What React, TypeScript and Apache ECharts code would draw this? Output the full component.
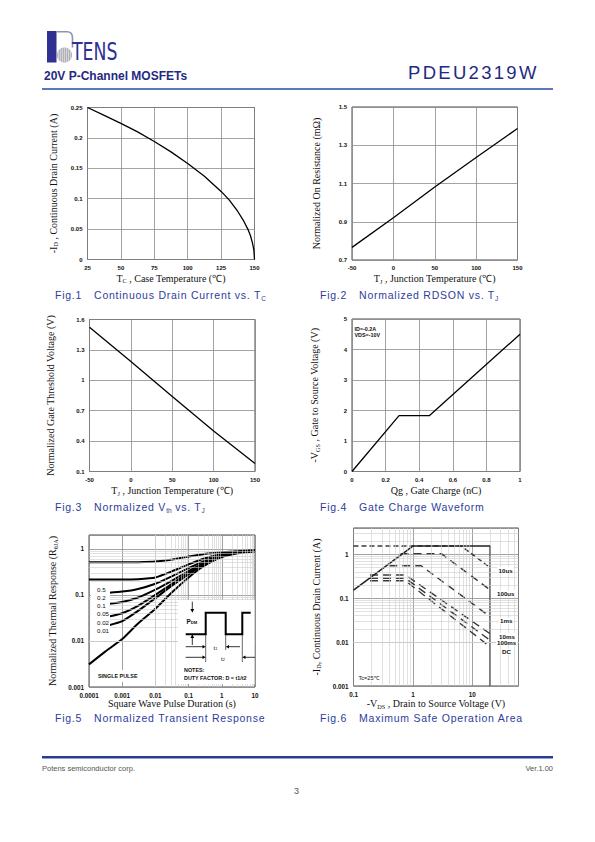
import React, { useEffect, useRef } from 'react';
import * as echarts from 'echarts';

// ---------- Fig.1  Continuous drain current vs case temperature ----------
const fig1TempC = [25, 37.5, 50, 62.5, 75, 87.5, 100, 112.5, 125, 131, 137.5, 142, 145, 147, 148.5, 149.5, 150];
const fig1CurrentA = [0.25, 0.237, 0.224, 0.21, 0.194, 0.177, 0.158, 0.137, 0.112, 0.098, 0.079, 0.063, 0.05, 0.039, 0.027, 0.016, 0];
const fig1XTicks = { min: 25, max: 150, interval: 25 };
const fig1YTicks = { min: 0, max: 0.25, interval: 0.05 };

// ---------- Fig.2  Normalized RDSON vs Tj ----------
const fig2TempC = [-50, 0, 50, 100, 150];
const fig2NormRds = [0.766, 0.921, 1.082, 1.236, 1.388];
const fig2YTicks = { min: 0.7, max: 1.5, interval: 0.2 };

// ---------- Fig.3  Normalized Vth vs Tj ----------
const fig3TempC = [-50, 0, 50, 100, 150];
const fig3NormVth = [1.524, 1.185, 0.84, 0.5, 0.18];
const fig3YTicks = { min: 0.1, max: 1.6, interval: 0.3 };
const tempTicks = { min: -50, max: 150, interval: 50 };

// ---------- Fig.4  Gate charge ----------
const fig4QgNc = [0, 0.28, 0.46, 1];
const fig4VgsV = [0, 1.83, 1.83, 4.5];
const fig4XTicks = { min: 0, max: 1, interval: 0.2 };
const fig4YTicks = { min: 0, max: 5, interval: 1 };

// ---------- Fig.5  Normalized transient response ----------
const fig5XTickLabels = ['0.0001', '0.001', '0.01', '0.1', '1', '10'];
const fig5YTickLabels = ['0.001', '0.01', '0.1', '1'];
const fig5DutyLabels = ['0.5', '0.2', '0.1', '0.05', '0.02', '0.01'];
const fig5TimeFull = [0.0001, 0.001, 0.003, 0.01, 0.03, 0.1, 0.3, 1, 3, 10];
const fig5TimeShort = [0.0004, 0.001, 0.003, 0.01, 0.03, 0.1, 0.3, 1, 3, 10];
const fig5D05 = [0.51, 0.51, 0.515, 0.53, 0.58, 0.68, 0.77, 0.84, 0.89, 0.93];
const fig5D02 = [0.215, 0.215, 0.22, 0.24, 0.32, 0.46, 0.62, 0.77, 0.86, 0.92];
const fig5D01 = [0.112, 0.118, 0.135, 0.175, 0.25, 0.38, 0.55, 0.73, 0.85, 0.91];
const fig5D005 = [0.064, 0.07, 0.088, 0.13, 0.2, 0.33, 0.5, 0.71, 0.84, 0.9];
const fig5D002 = [0.034, 0.04, 0.058, 0.1, 0.17, 0.3, 0.47, 0.69, 0.83, 0.9];
const fig5D001 = [0.022, 0.027, 0.045, 0.085, 0.155, 0.28, 0.46, 0.68, 0.83, 0.9];
const fig5SingleTime = [0.0001, 0.0003, 0.001, 0.003, 0.01, 0.03, 0.1, 0.3, 1, 3, 10];
const fig5Single = [0.0031, 0.0058, 0.011, 0.024, 0.05, 0.11, 0.24, 0.43, 0.66, 0.8, 0.89];

// ---------- Fig.6  Safe operating area ----------
const fig6XTickLabels = ['0.1', '1', '10'];
const fig6YTickLabels = ['0.001', '0.01', '0.1', '1'];
const fig6LimitV = [0.1, 1, 20, 20];
const fig6LimitI = [0.154, 1.55, 1.55, 0.001];
const fig6V10us = [0.1, 6.5, 20];
const fig6I10us = [1.55, 1.55, 0.5];
const fig6V100us = [0.62, 3.0, 20];
const fig6I100us = [1.04, 1.04, 0.155];
const fig6V1ms = [0.4, 1.38, 20];
const fig6I1ms = [0.55, 0.55, 0.038];
const fig6V10ms = [0.19, 0.75, 20];
const fig6I10ms = [0.34, 0.34, 0.0155];
const fig6V100ms = [0.19, 0.75, 20];
const fig6I100ms = [0.285, 0.285, 0.011];
const fig6VDc = [0.19, 0.75, 20];
const fig6IDc = [0.25, 0.25, 0.0078];
const fig6CurveLabels = ['10us', '100us', '1ms', '10ms', '100ms', 'DC'];

// ---------- layout ----------
const GRIDS = [
  { left: 87.5, top: 107.5, width: 167, height: 152 },
  { left: 352, top: 107, width: 165.5, height: 153 },
  { left: 89.5, top: 319.5, width: 165.5, height: 152 },
  { left: 352, top: 319, width: 168, height: 152.5 },
  { left: 89, top: 535, width: 166, height: 152 },
  { left: 353.5, top: 528, width: 165, height: 158 },
];

const serif = "'Liberation Serif', 'Times New Roman', serif";
const sans = "'Liberation Sans', Arial, Helvetica, sans-serif";
const BLUE = '#2d3d9b';
const NAVY = '#1f2a82';

const xy = (xs: number[], ys: number[]) => xs.map((x, i) => [x, ys[i]]);

const tickLabel = (size = 6) => ({ fontFamily: sans, fontWeight: 'bold' as const, fontSize: size, color: '#111' });

const richName = (size = 10) => ({
  fontFamily: serif,
  fontSize: size,
  color: '#111',
  rich: {
    n: { fontFamily: serif, fontSize: size, color: '#111' },
    s: { fontFamily: serif, fontSize: size * 0.62, color: '#111', padding: [size * 0.45, 0, 0, 0] },
  },
});

const gridSplit = { show: true, lineStyle: { color: '#8c8c8c', width: 0.8 } };

const linAxis = (gi: number, t: { min: number; max: number; interval: number }, name: string, nameGap: number) => ({
  gridIndex: gi,
  type: 'value',
  min: t.min,
  max: t.max,
  interval: t.interval,
  axisLine: { show: false },
  axisTick: { show: false },
  axisLabel: { ...tickLabel(6), margin: 5 },
  splitLine: gridSplit,
  name,
  nameLocation: 'middle',
  nameGap,
  nameTextStyle: richName(10),
});

const logFormatter = (labels: string[]) => (v: number) => {
  const m = labels.find((l) => Math.abs(Math.log10(parseFloat(l)) - Math.log10(v)) < 1e-6);
  return m ?? '';
};

const logAxis = (gi: number, min: number, max: number, labels: string[], name: string, nameGap: number) => ({
  gridIndex: gi,
  type: 'log',
  logBase: 10,
  min,
  max,
  axisLine: { show: false },
  axisTick: { show: false },
  axisLabel: { ...tickLabel(6.3), margin: 5, formatter: logFormatter(labels), showMinLabel: true, showMaxLabel: true },
  splitLine: { show: true, lineStyle: { color: '#8a8a8a', width: 0.8 } },
  name,
  nameLocation: 'middle',
  nameGap,
  nameTextStyle: richName(10),
});

const minorLogValues = (lo: number, hi: number) => {
  const out: number[] = [];
  for (let e = Math.floor(Math.log10(lo)); e <= Math.ceil(Math.log10(hi)); e++) {
    for (let k = 2; k <= 9; k++) {
      const v = k * Math.pow(10, e);
      if (v > lo * 1.0001 && v < hi * 0.9999) out.push(v);
    }
  }
  return out;
};

const minorGridSeries = (gi: number, xr: [number, number], yr: [number, number]) => ({
  type: 'line',
  xAxisIndex: gi,
  yAxisIndex: gi,
  data: [[xr[0], yr[0]]],
  symbol: 'none',
  lineStyle: { opacity: 0 },
  silent: true,
  z: 1,
  markLine: {
    silent: true,
    symbol: ['none', 'none'],
    label: { show: false },
    emphasis: { disabled: true },
    lineStyle: { color: '#cdcdcd', width: 0.6, type: 'solid' },
    data: [
      ...minorLogValues(xr[0], xr[1]).map((v) => ({ xAxis: v })),
      ...minorLogValues(yr[0], yr[1]).map((v) => ({ yAxis: v })),
    ],
  },
});

const curve = (gi: number, data: number[][], width = 1.3, extra: any = {}) => ({
  type: 'line',
  xAxisIndex: gi,
  yAxisIndex: gi,
  data,
  symbol: 'none',
  silent: true,
  z: 3,
  lineStyle: { color: '#000', width, ...(extra.lineStyle || {}) },
  ...extra.rest,
});

const dashed = (gi: number, data: number[][], dash: number[]) =>
  curve(gi, data, 1.4, { lineStyle: { color: '#3a3a3a', type: dash } });

const smallText = (x: number, y: number, text: string, size = 5.6, weight = 'bold', extra: any = {}) => ({
  type: 'text',
  x,
  y,
  z: 12,
  style: { text, fontFamily: sans, fontSize: size, fontWeight: weight, fill: '#111', align: 'left', verticalAlign: 'middle', ...extra },
});

const line = (x1: number, y1: number, x2: number, y2: number, w = 0.8) => ({
  type: 'line',
  z: 12,
  shape: { x1, y1, x2, y2 },
  style: { stroke: '#000', lineWidth: w },
});

const head = (pts: number[][]) => ({ type: 'polygon', z: 12, shape: { points: pts }, style: { fill: '#000' } });

const subText = (x: number, y: number, main: string, sub: string, size: number, weight: string) => ({
  type: 'text',
  z: 12,
  x,
  y,
  style: {
    text: `{p|${main}}{s|${sub}}`,
    verticalAlign: 'middle',
    rich: {
      p: { fontFamily: sans, fontSize: size, fontWeight: weight, fill: '#111' },
      s: { fontFamily: sans, fontSize: size * 0.65, fontWeight: weight, fill: '#111', padding: [size * 0.45, 0, 0, 0] },
    },
  },
});

const fig5LabelY = [589, 597, 605, 613.5, 622, 630.5];
const fig6LabelPos = [
  [497.5, 570],
  [496, 593.3],
  [499, 620.7],
  [498, 636],
  [496, 642.5],
  [501, 651.7],
];

const graphics: any[] = [
  // Fig.4 annotation
  smallText(354.5, 328.7, 'ID=-0.2A', 5.4),
  smallText(354.5, 334.7, 'VDS=-10V', 5.4),
  // Fig.5 white boxes
  { type: 'rect', z: 10, shape: { x: 91, y: 583, width: 19, height: 53 }, style: { fill: '#fff' } },
  { type: 'rect', z: 10, shape: { x: 93, y: 670, width: 48, height: 12 }, style: { fill: '#fff' } },
  { type: 'rect', z: 10, shape: { x: 178, y: 600, width: 76.5, height: 84 }, style: { fill: '#fff' } },
  ...fig5DutyLabels.map((t, i) => smallText(97, fig5LabelY[i], t, 6.2, 'normal')),
  smallText(98, 676, 'SINGLE PULSE', 5.4),
  // pulse diagram
  {
    type: 'polyline',
    z: 12,
    shape: {
      points: [
        [185.7, 634.3], [205.7, 634.3], [205.7, 612.7], [225.7, 612.7],
        [225.7, 634.3], [242.3, 634.3], [242.3, 612.7], [250.7, 612.7],
      ],
    },
    style: { stroke: '#000', lineWidth: 2, fill: 'none' },
  },
  line(192.3, 601.7, 192.3, 610),
  head([[190.4, 609], [194.2, 609], [192.3, 612.7]]),
  line(192.3, 645, 192.3, 637.5),
  head([[190.4, 638], [194.2, 638], [192.3, 634.3]]),
  subText(186.5, 621.5, 'P', 'DM', 6.5, 'bold'),
  line(185.7, 646.7, 203, 646.7),
  head([[202.5, 645], [202.5, 648.4], [205.7, 646.7]]),
  line(240, 646.7, 228.5, 646.7),
  head([[229, 645], [229, 648.4], [225.7, 646.7]]),
  line(185.7, 657.3, 203, 657.3),
  head([[202.5, 655.6], [202.5, 659], [205.7, 657.3]]),
  line(255, 657.3, 245, 657.3),
  head([[245.5, 655.6], [245.5, 659], [242.3, 657.3]]),
  line(205.7, 634.3, 205.7, 662, 0.6),
  line(225.7, 634.3, 225.7, 650, 0.6),
  line(242.3, 634.3, 242.3, 662, 0.6),
  subText(213.5, 647.5, 't', '1', 6.2, 'normal'),
  subText(221, 658.3, 't', '2', 6.2, 'normal'),
  smallText(184, 670, 'NOTES:', 5.4),
  smallText(184, 677.8, 'DUTY FACTOR: D = t1/t2', 5.4),
  // Fig.6 labels
  ...fig6CurveLabels.map((t, i) =>
    smallText(fig6LabelPos[i][0], fig6LabelPos[i][1], t, 6.2, 'bold', { backgroundColor: '#fff', padding: [0, 1, 0, 1] })
  ),
  smallText(358.5, 678.3, 'Tc=25℃', 5.6, 'normal', { backgroundColor: '#fff' }),
];

const smoothOpt = { rest: { smooth: 0.2 } };

const option: any = {
  animation: false,
  backgroundColor: '#fff',
  grid: GRIDS.map((g) => ({ ...g, show: true, borderColor: '#4a4a4a', borderWidth: 1, backgroundColor: 'transparent', containLabel: false })),
  xAxis: [
    linAxis(0, fig1XTicks, '{n|T}{s|C}{n| , Case Temperature (℃)}', 13.5),
    linAxis(1, tempTicks, '{n|T}{s|J}{n| , Junction Temperature (℃)}', 13.5),
    linAxis(2, tempTicks, '{n|T}{s|J}{n| , Junction Temperature (℃)}', 14),
    linAxis(3, fig4XTicks, '{n|Qg , Gate Charge (nC)}', 14),
    logAxis(4, 0.0001, 10, fig5XTickLabels, '{n|Square Wave Pulse Duration (s)}', 11.5),
    logAxis(5, 0.1, 60, fig6XTickLabels, '{n|-V}{s|DS}{n| , Drain to Source Voltage (V)}', 12.5),
  ],
  yAxis: [
    linAxis(0, fig1YTicks, '{n|-I}{s|D}{n| , Continuous Drain Current (A)}', 29),
    linAxis(1, fig2YTicks, '{n|Normalized On Resistance (mΩ)}', 31),
    linAxis(2, fig3YTicks, '{n|Normalized Gate Threshold Voltage (V)}', 34),
    linAxis(3, fig4YTicks, '{n|-V}{s|GS}{n| , Gate to Source Voltage (V)}', 32),
    logAxis(4, 0.001, 2, fig5YTickLabels, '{n|Normalized Thermal Response (R}{s|θJA}{n|)}', 31),
    logAxis(5, 0.001, 4, fig6YTickLabels, '{n|-I}{s|D}{n|, Continuous Drain Current (A)}', 32),
  ],
  series: [
    curve(0, xy(fig1TempC, fig1CurrentA)),
    curve(1, xy(fig2TempC, fig2NormRds)),
    curve(2, xy(fig3TempC, fig3NormVth)),
    curve(3, xy(fig4QgNc, fig4VgsV)),
    minorGridSeries(4, [0.0001, 10], [0.001, 2]),
    minorGridSeries(5, [0.1, 60], [0.001, 4]),
    ...[fig5D05, fig5D02].map((d) => curve(4, xy(fig5TimeFull, d), 2, smoothOpt)),
    ...[fig5D01, fig5D005, fig5D002, fig5D001].map((d) => curve(4, xy(fig5TimeShort, d), 2, smoothOpt)),
    curve(4, xy(fig5SingleTime, fig5Single), 2, smoothOpt),
    dashed(5, xy(fig6V10us, fig6I10us), [5, 3]),
    dashed(5, xy(fig6V100us, fig6I100us), [8, 5]),
    dashed(5, xy(fig6V1ms, fig6I1ms), [8, 5]),
    dashed(5, xy(fig6V10ms, fig6I10ms), [8, 5]),
    dashed(5, xy(fig6V100ms, fig6I100ms), [8, 5]),
    dashed(5, xy(fig6VDc, fig6IDc), [8, 5]),
    curve(5, xy(fig6LimitV, fig6LimitI), 1.5, { lineStyle: { color: '#222' } }),
  ],
  graphic: { elements: graphics },
};

const subStyle: React.CSSProperties = { fontSize: '0.62em', verticalAlign: '-0.25em', letterSpacing: 0 };

const captions: { left: number; cy: number; fig: string; body: React.ReactNode }[] = [
  { left: 55, cy: 295, fig: 'Fig.1', body: <>Continuous Drain Current vs. T<span style={subStyle}>C</span></> },
  { left: 320, cy: 295, fig: 'Fig.2', body: <>Normalized RDSON vs. T<span style={subStyle}>J</span></> },
  { left: 55, cy: 506.5, fig: 'Fig.3', body: <>Normalized V<span style={subStyle}>th</span> vs. T<span style={subStyle}>J</span></> },
  { left: 320, cy: 506.5, fig: 'Fig.4', body: <>Gate Charge Waveform</> },
  { left: 55, cy: 717.5, fig: 'Fig.5', body: <>Normalized Transient Response</> },
  { left: 320, cy: 717.5, fig: 'Fig.6', body: <>Maximum Safe Operation Area</> },
];

function Logo() {
  return (
    <>
      <svg style={{ position: 'absolute', left: 40, top: 25 }} width={40} height={42} viewBox="0 0 40 42">
        <defs>
          <clipPath id="globeClip">
            <circle cx={24.5} cy={30} r={7.6} />
          </clipPath>
        </defs>
        <rect x={7} y={6} width={9.5} height={31.5} fill="#2e3192" />
        <path d="M16.5 6.8 H27 Q32.5 6.8 32.5 13 V22.5" stroke="#8d92b8" strokeWidth={1.6} fill="none" />
        <circle cx={24.5} cy={30} r={7.6} fill="#9b9ca6" />
        <g clipPath="url(#globeClip)" stroke="#ffffff" strokeWidth={0.55} opacity={0.85}>
          {[-6, -4, -2, 0, 2, 4, 6].map((d) => (
            <line key={'h' + d} x1={16} y1={30 + d} x2={33} y2={30 + d} />
          ))}
          {[-6, -4, -2, 0, 2, 4, 6].map((d) => (
            <line key={'v' + d} x1={24.5 + d} y1={22} x2={24.5 + d} y2={38} />
          ))}
        </g>
      </svg>
      <div
        style={{
          position: 'absolute',
          left: 72,
          top: 39,
          height: 26,
          lineHeight: '26px',
          fontSize: 24,
          fontFamily: "'DejaVu Sans Condensed', 'Liberation Sans', sans-serif",
          color: '#2e3192',
          whiteSpace: 'nowrap',
          transform: 'scaleX(0.8)',
          transformOrigin: 'left center',
        }}
      >
        TENS
      </div>
    </>
  );
}

export default function App() {
  const ref = useRef<HTMLDivElement>(null);
  useEffect(() => {
    if (!ref.current) return;
    const chart = echarts.init(ref.current, null, { renderer: 'svg', width: 595, height: 842 });
    chart.setOption(option);
    return () => chart.dispose();
  }, []);

  const abs = (left: number, cy: number, h: number): React.CSSProperties => ({
    position: 'absolute',
    left,
    top: cy - h / 2,
    height: h,
    lineHeight: `${h}px`,
    whiteSpace: 'nowrap',
  });

  return (
    <div style={{ position: 'absolute', left: 0, top: 0, width: 595, height: 842, background: '#fff', overflow: 'hidden', fontFamily: sans }}>
      <div ref={ref} style={{ position: 'absolute', left: 0, top: 0, width: 595, height: 842 }} />
      <Logo />
      <div style={{ ...abs(44, 76, 14), fontSize: 12, fontWeight: 'bold', color: NAVY }}>20V P-Channel MOSFETs</div>
      <div style={{ ...abs(408, 73, 22), fontSize: 18.5, letterSpacing: 2.3, color: NAVY }}>PDEU2319W</div>
      <div style={{ position: 'absolute', left: 42, top: 87.5, width: 511, height: 2, background: '#5a78be' }} />

      {captions.map((c) => (
        <div key={c.fig} style={{ ...abs(c.left, c.cy, 14), fontSize: 10.5, letterSpacing: 0.75, color: BLUE }}>
          <span>{c.fig}</span>
          <span style={{ marginLeft: 12 }}>{c.body}</span>
        </div>
      ))}

      <div style={{ position: 'absolute', left: 42, top: 755.5, width: 511, height: 2.2, background: '#2b3990' }} />
      <div style={{ position: 'absolute', left: 42, top: 757.7, width: 511, height: 1, background: '#8fa3d3' }} />
      <div style={{ ...abs(42, 769, 10), fontSize: 7.5, color: '#555' }}>Potens semiconductor corp.</div>
      <div style={{ ...abs(522, 769, 10), fontSize: 7.5, color: '#555', width: 31, textAlign: 'right' }}>Ver.1.00</div>
      <div style={{ ...abs(294, 791, 12), fontSize: 9, color: '#555' }}>3</div>
    </div>
  );
}
